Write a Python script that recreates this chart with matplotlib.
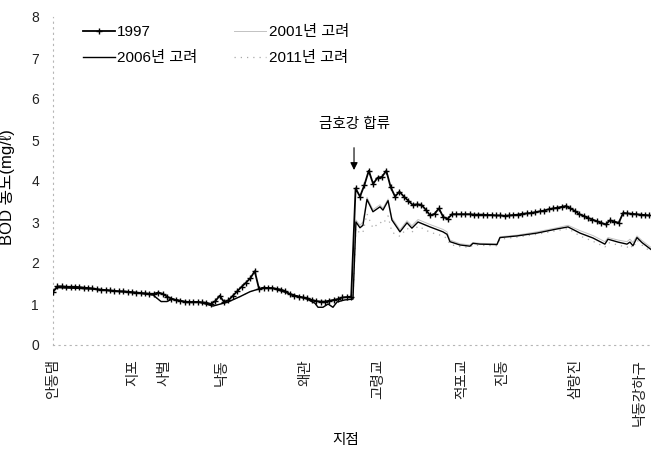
import numpy as np
import matplotlib
matplotlib.use("Agg")
import matplotlib.pyplot as plt

plt.rcParams['font.family'] = ['Liberation Sans', 'Noto Sans CJK KR', 'DejaVu Sans']

# Monitoring stations along the river (chainage, km from 안동댐)
station_names = ['안동댐', '지포', '사벌', '낙동', '왜관', '고령교', '적포교', '진동', '삼랑진', '낙동강하구']
station_km = [0, 45.6, 63.8, 96.3, 143.6, 185.3, 233.1, 256.0, 298.0, 334.6]

# 1997 observed BOD, sampled every 2.5 km
bod_1997 = [
    1.30, 1.43, 1.43, 1.42, 1.42, 1.42, 1.41, 1.40, 1.39, 1.38,
    1.36, 1.35, 1.34, 1.33, 1.32, 1.31, 1.31, 1.30, 1.29, 1.28,
    1.27, 1.26, 1.25, 1.25, 1.28, 1.25, 1.18, 1.13, 1.10, 1.08,
    1.06, 1.05, 1.05, 1.05, 1.04, 1.03, 1.00, 1.07, 1.20, 1.05,
    1.09, 1.20, 1.31, 1.42, 1.52, 1.63, 1.80, 1.36, 1.40, 1.39,
    1.39, 1.37, 1.35, 1.31, 1.24, 1.20, 1.18, 1.16, 1.14, 1.10,
    1.07, 1.06, 1.06, 1.08, 1.10, 1.12, 1.16, 1.17, 1.18, 3.82,
    3.62, 3.90, 4.25, 3.93, 4.08, 4.10, 4.25, 3.85, 3.62, 3.74,
    3.62, 3.52, 3.42, 3.43, 3.42, 3.30, 3.16, 3.20, 3.33, 3.12,
    3.08, 3.19, 3.19, 3.19, 3.19, 3.19, 3.18, 3.18, 3.18, 3.17,
    3.17, 3.16, 3.16, 3.15, 3.16, 3.17, 3.18, 3.20, 3.21, 3.22,
    3.24, 3.26, 3.28, 3.31, 3.33, 3.35, 3.37, 3.39, 3.33, 3.27,
    3.19, 3.15, 3.10, 3.06, 3.02, 2.98, 2.94, 3.04, 3.01, 2.98,
    3.22, 3.21, 3.20, 3.19, 3.18, 3.17, 3.16,
]
x_1997 = np.arange(len(bod_1997)) * 2.5

# Scenario runs (chainage, km)
x_scen = [
    0.0, 2.3, 21.1, 49.6, 57.0, 61.6, 65.0, 67.8, 76.4, 83.8,
    91.2, 99.8, 106.6, 112.3, 119.1, 125.4, 135.1, 144.8, 149.3, 151.1,
    153.9, 156.8, 159.6, 161.9, 166.4, 171.0, 172.7, 175.0, 176.7, 179.0,
    182.4, 186.4, 188.1, 191.0, 193.2, 197.8, 201.8, 204.6, 208.1, 214.9,
    222.3, 224.6, 226.3, 232.0, 237.7, 239.4, 243.4, 253.1, 254.8, 264.5,
    275.9, 287.3, 293.6, 300.4, 307.8, 314.6, 316.4, 322.1, 327.2, 328.9,
    330.6, 332.9, 335.7, 340.9,
]
bod_2006 = [
    1.30, 1.40, 1.37, 1.26, 1.22, 1.06, 1.06, 1.12, 1.04, 1.04,
    0.95, 1.05, 1.18, 1.30, 1.39, 1.38, 1.25, 1.12, 1.02, 0.92,
    0.92, 1.00, 0.92, 1.05, 1.10, 1.12, 3.00, 2.86, 2.92, 3.55,
    3.25, 3.37, 3.29, 3.52, 3.05, 2.76, 2.98, 2.85, 3.00, 2.88,
    2.76, 2.70, 2.52, 2.44, 2.41, 2.48, 2.46, 2.45, 2.62, 2.66,
    2.73, 2.83, 2.88, 2.73, 2.61, 2.46, 2.58, 2.51, 2.46, 2.51,
    2.42, 2.62, 2.50, 2.33,
]
bod_2001 = [
    1.30, 1.40, 1.37, 1.26, 1.22, 1.06, 1.06, 1.12, 1.04, 1.04,
    0.95, 1.05, 1.18, 1.30, 1.39, 1.38, 1.25, 1.12, 1.02, 0.92,
    0.92, 1.00, 0.92, 1.05, 1.10, 1.12, 3.05, 2.92, 3.00, 3.60,
    3.30, 3.42, 3.34, 3.56, 3.10, 2.81, 3.03, 2.91, 3.06, 2.94,
    2.82, 2.76, 2.56, 2.47, 2.44, 2.50, 2.48, 2.47, 2.64, 2.68,
    2.76, 2.86, 2.92, 2.79, 2.67, 2.52, 2.62, 2.56, 2.52, 2.58,
    2.50, 2.66, 2.55, 2.38,
]
bod_2011 = [
    1.30, 1.40, 1.37, 1.26, 1.22, 1.06, 1.06, 1.12, 1.04, 1.04,
    0.95, 1.05, 1.18, 1.30, 1.39, 1.38, 1.25, 1.12, 1.02, 0.92,
    0.92, 1.00, 0.92, 1.05, 1.10, 1.12, 2.85, 2.72, 2.75, 3.20,
    2.85, 3.00, 2.95, 3.15, 2.75, 2.65, 2.85, 2.75, 2.90, 2.75,
    2.66, 2.60, 2.45, 2.40, 2.38, 2.44, 2.43, 2.42, 2.58, 2.63,
    2.70, 2.79, 2.84, 2.66, 2.53, 2.39, 2.50, 2.44, 2.38, 2.45,
    2.36, 2.56, 2.44, 2.27,
]

confluence_km = 171.6

W, H = 651, 453
fig = plt.figure(figsize=(W / 100, H / 100), dpi=100)
ax = fig.add_axes([53 / W, (H - 345) / H, (W - 53) / W, 328 / H])

ax.plot(x_1997, bod_1997, color='black', lw=1.3, marker='+', ms=4.5, mew=1.0, label='1997', zorder=4)
ax.plot(x_scen, bod_2006, color='black', lw=1.0, label='2006년 고려', zorder=3)
ax.plot(x_scen, bod_2001, color='#c2c2c2', lw=0.7, label='2001년 고려', zorder=2)
ax.plot(x_scen, bod_2011, color='#a8a8a8', lw=0.9, ls=(0, (1, 4)), label='2011년 고려', zorder=2)

ax.set_xlim(0, 340.9)
ax.set_ylim(0, 8)
ax.set_yticks(range(0, 9))
ax.set_xticks(station_km)
ax.set_xticklabels(station_names, rotation=90, fontsize=10.5)
ax.tick_params(axis='y', length=0, pad=10, labelsize=10, labelcolor='#222222')
ax.tick_params(axis='x', length=0, pad=10, labelcolor='#222222')

for side in ('top', 'right'):
    ax.spines[side].set_visible(False)
for side in ('left', 'bottom'):
    ax.spines[side].set_color('#b5b5b5')
    ax.spines[side].set_linestyle((0, (1, 4)))
    ax.spines[side].set_linewidth(0.8)

ax.set_ylabel('BOD 농도(mg/ℓ)', fontsize=12)
ax.yaxis.set_label_coords(-0.064, 0.48)
ax.set_xlabel('지점', fontsize=10.5)
ax.xaxis.set_label_coords(0.49, -0.268)

# Geumho River confluence marker
ax.annotate('', xy=(confluence_km, 4.2), xytext=(confluence_km, 4.88),
            arrowprops=dict(arrowstyle='-|>', color='black', lw=0.8, mutation_scale=11))
ax.text(confluence_km, 5.39, '금호강 합류', ha='center', va='center', fontsize=10.5)

handles, labels = ax.get_legend_handles_labels()
leg = fig.legend(handles, labels,
                 loc='upper left', bbox_to_anchor=(83 / W, 1 - 25 / H),
                 ncol=2, frameon=False, fontsize=11, borderpad=0, borderaxespad=0,
                 handlelength=2.1, handletextpad=0.15, columnspacing=2.4,
                 labelspacing=0.8)

fig.savefig('out.png', dpi=100)
